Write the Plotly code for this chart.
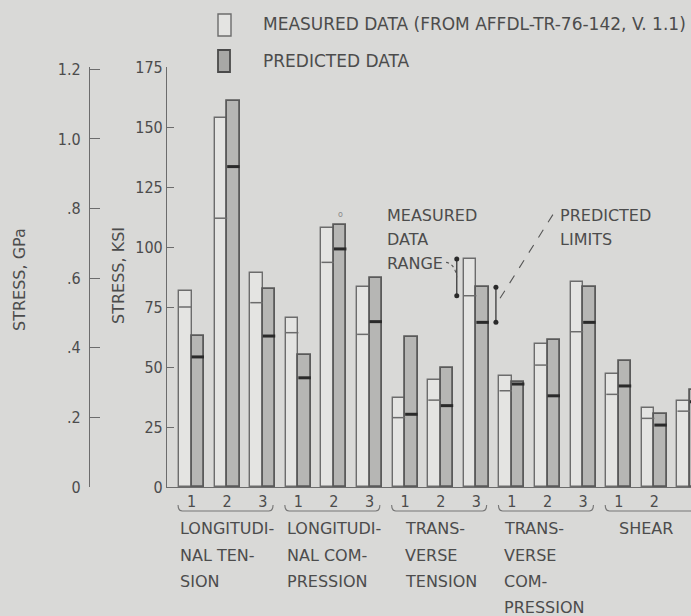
import plotly.graph_objects as go

# ---- data (stress, ksi) -------------------------------------------------
group_names = [
    ["LONGITUDI-", "NAL TEN-", "SION"],
    ["LONGITUDI-", "NAL COM-", "PRESSION"],
    ["TRANS-", "VERSE", "TENSION"],
    ["TRANS-", "VERSE", "COM-", "PRESSION"],
    ["SHEAR"],
]
specimen_labels = ["1", "2", "3"] * 5

measured_max = [81.7, 153.7, 89.3, 70.3, 108.0, 83.5, 37.0, 44.6, 95.0,
                46.4, 59.4, 85.5, 46.9, 32.8, 35.8]
measured_min = [75.0, 112.0, 76.8, 64.3, 93.6, 63.6, 28.9, 36.2, 79.7,
                40.1, 50.8, 64.7, 38.6, 28.6, 31.6]
predicted_max = [62.9, 161.0, 82.6, 55.0, 109.2, 87.2, 62.4, 49.4, 83.2,
                 43.9, 61.2, 83.2, 52.4, 30.4, 40.4]
predicted_min = [54.2, 133.5, 62.9, 45.5, 99.2, 68.9, 30.3, 33.9, 68.6,
                 42.9, 38.0, 68.6, 42.1, 25.8, 35.5]

ksi_ticks = [0, 25, 50, 75, 100, 125, 150, 175]
gpa_ticks = [0, 0.2, 0.4, 0.6, 0.8, 1.0, 1.2]
gpa_text = ["0", ".2", ".4", ".6", ".8", "1.0", "1.2"]
KSI_PER_GPA = 145.038

# ---- styling ------------------------------------------------------------
W, H = 691, 616
TOP, BOTTOM = 67, 487          # pixel rows of 175 ksi and 0 ksi
LEFT = 167                     # pixel column of the ksi axis
BG = "#d9d9d7"
INK = "#4c4c4c"
LINE = "#6c6c6c"
FONT = "DejaVu Sans, Verdana, sans-serif"
TICKFONT = "DejaVu Sans Condensed, DejaVu Sans, sans-serif"
BW = 0.35                      # bar width in slot units

slots = list(range(len(measured_max)))
x_meas = [s - BW / 2 for s in slots]
x_pred = [s + BW / 2 for s in slots]


def py(px):
    """pixel row -> paper y"""
    return (BOTTOM - px) / (BOTTOM - TOP)


fig = go.Figure()

fig.add_trace(go.Bar(
    x=x_meas, y=measured_max, width=BW,
    marker=dict(color="#e4e4e2", line=dict(color=LINE, width=1.4)),
    hoverinfo="skip", showlegend=False))
fig.add_trace(go.Bar(
    x=x_pred, y=predicted_max, width=BW,
    marker=dict(color="#b6b6b4", line=dict(color="#5a5a5a", width=1.8)),
    hoverinfo="skip", showlegend=False))


def segments(centers, values):
    xs, ys = [], []
    for c, v in zip(centers, values):
        xs += [c - BW / 2, c + BW / 2, None]
        ys += [v, v, None]
    return xs, ys


mx, my = segments(x_meas, measured_min)
fig.add_trace(go.Scatter(x=mx, y=my, mode="lines",
                         line=dict(color=LINE, width=1.5),
                         hoverinfo="skip", showlegend=False))
px_, py_ = segments(x_pred, predicted_min)
fig.add_trace(go.Scatter(x=px_, y=py_, mode="lines",
                         line=dict(color="#2a2a2a", width=3),
                         hoverinfo="skip", showlegend=False))

# GPa scale (secondary axis, same physical scale)
fig.add_trace(go.Scatter(x=[0], y=[0], yaxis="y2", mode="markers",
                         marker=dict(opacity=0), hoverinfo="skip",
                         showlegend=False))

# range indicators on the transverse-tension specimen 3 bars
k = 8
xr_m = k - 0.55
xr_p = k + 0.55
fig.add_trace(go.Scatter(
    x=[xr_m, xr_m], y=[measured_min[k], measured_max[k]],
    mode="lines+markers", line=dict(color="#3a3a3a", width=1.3),
    marker=dict(size=5, color="#2a2a2a"), hoverinfo="skip", showlegend=False))
fig.add_trace(go.Scatter(
    x=[xr_p, xr_p], y=[predicted_min[k], predicted_max[k]],
    mode="lines+markers", line=dict(color="#3a3a3a", width=1.3),
    marker=dict(size=5, color="#2a2a2a"), hoverinfo="skip", showlegend=False))

shapes = []
# leaders
shapes.append(dict(type="path", xref="x", yref="y",
                   path=f"M 7.15 93.6 Q 7.4 93.0 {xr_m} "
                        f"{(measured_min[k] + measured_max[k]) / 2}",
                   line=dict(color="#555", width=1.1, dash="dot")))
shapes.append(dict(type="line", xref="x", yref="y",
                   x0=10.15, y0=113.5, x1=xr_p,
                   y1=(predicted_min[k] + predicted_max[k]) / 2,
                   line=dict(color="#555", width=1.1, dash="dash")))

# braces under each group of three specimens
yb_top, yb_bot = py(505), py(511)
for g in range(5):
    a, b = 3 * g - 0.38, 3 * g + 2.29
    shapes.append(dict(
        type="path", xref="x", yref="paper",
        path=(f"M {a} {yb_top} Q {a} {yb_bot} {a + 0.12} {yb_bot} "
              f"L {b - 0.12} {yb_bot} Q {b} {yb_bot} {b} {yb_top}"),
        line=dict(color="#777", width=1.1)))

# legend swatches
shapes.append(dict(type="rect", xref="paper", yref="paper",
                   x0=218 / W, x1=231 / W, y0=py(36), y1=py(14),
                   fillcolor="#e4e4e2", line=dict(color=LINE, width=1.4)))
shapes.append(dict(type="rect", xref="paper", yref="paper",
                   x0=218 / W, x1=230 / W, y0=py(72), y1=py(50),
                   fillcolor="#a8a8a6", line=dict(color="#4a4a4a", width=1.8)))

annotations = []
tf = dict(family=FONT, size=16, color=INK)
lf = dict(family=FONT, size=17, color=INK)
annotations.append(dict(xref="paper", yref="paper", x=261 / W, y=py(24),
                        xanchor="left", yanchor="middle", showarrow=False,
                        text="MEASURED DATA (FROM AFFDL-TR-76-142, V. 1.1)",
                        font=lf))
annotations.append(dict(xref="paper", yref="paper", x=261 / W, y=py(61),
                        xanchor="left", yanchor="middle", showarrow=False,
                        text="PREDICTED DATA", font=lf))

# group names beneath the braces
name_left = [-0.38, 2.63, 5.94, 8.72, 11.95]
line_rows = [528, 555, 581, 607]
for g, lines in enumerate(group_names):
    for j, t in enumerate(lines):
        annotations.append(dict(xref="x", yref="paper", x=name_left[g],
                                y=py(line_rows[j]), xanchor="left",
                                yanchor="middle", showarrow=False, text=t,
                                font=tf))

# callout labels
for j, t in enumerate(["MEASURED", "DATA", "RANGE"]):
    annotations.append(dict(xref="paper", yref="paper", x=385 / W,
                            y=py(215 + 24 * j), xanchor="left",
                            yanchor="middle", showarrow=False, text=t,
                            font=tf))
for j, t in enumerate(["PREDICTED", "LIMITS"]):
    annotations.append(dict(xref="paper", yref="paper", x=558 / W,
                            y=py(215 + 24 * j), xanchor="left",
                            yanchor="middle", showarrow=False, text=t,
                            font=tf))

# footnote mark above longitudinal-compression specimen 2
annotations.append(dict(xref="x", yref="y", x=x_pred[4], y=predicted_max[4],
                        yshift=10, showarrow=False, text="o",
                        font=dict(family=FONT, size=8, color="#8a8a8a")))

# axis titles
annotations.append(dict(xref="paper", yref="paper", x=19 / W, y=py(280),
                        xanchor="center", yanchor="middle",
                        textangle=-90, showarrow=False, text="STRESS, GPa",
                        font=tf))
annotations.append(dict(xref="paper", yref="paper", x=118 / W, y=py(275),
                        xanchor="center", yanchor="middle",
                        textangle=-90, showarrow=False, text="STRESS, KSI",
                        font=tf))

tickf = dict(family=TICKFONT, size=16, color=INK)
fig.update_layout(
    width=W, height=H,
    margin=dict(l=0, r=0, t=TOP, b=H - BOTTOM),
    paper_bgcolor=BG, plot_bgcolor=BG,
    barmode="overlay", bargap=0,
    shapes=shapes, annotations=annotations,
    xaxis=dict(domain=[LEFT / W, 1], range=[-0.69, 14.03],
               tickvals=slots, ticktext=specimen_labels, ticks="",
               tickfont=tickf, showgrid=False, zeroline=False,
               showline=True, linecolor=LINE, linewidth=1.2,
               fixedrange=True),
    yaxis=dict(range=[0, 175], tickvals=ksi_ticks,
               ticktext=[str(v) for v in ksi_ticks],
               ticks="inside", ticklen=7, tickcolor=LINE, tickwidth=1.2,
               showline=True, linecolor=LINE, linewidth=1.2,
               showgrid=False, zeroline=False, tickfont=tickf,
               fixedrange=True),
    yaxis2=dict(overlaying="y", anchor="free", position=89 / W, side="left",
                range=[0, 175 / KSI_PER_GPA], tickvals=gpa_ticks,
                ticktext=gpa_text, ticks="inside", ticklen=10,
                tickcolor=LINE, tickwidth=1.2, showline=True,
                linecolor=LINE, linewidth=1.2, showgrid=False,
                zeroline=False, tickfont=tickf, ticklabelstandoff=5,
                fixedrange=True),
)

fig.write_html("out.html", config={"displayModeBar": False})
